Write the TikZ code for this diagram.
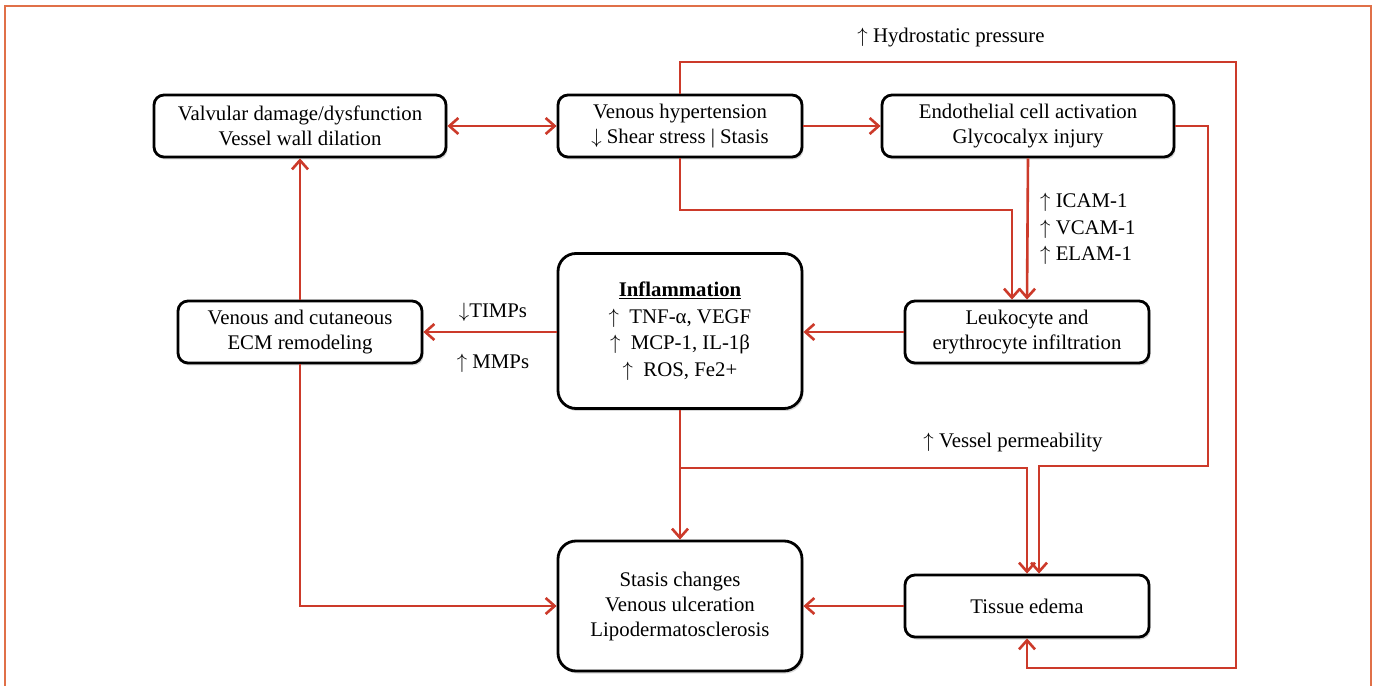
\documentclass[tikz,border=0pt]{standalone}
\usepackage{fontspec}
\setmainfont{Liberation Serif}
\usetikzlibrary{arrows.meta, positioning, calc, shadows}
\definecolor{linkred}{RGB}{204,58,42}
\definecolor{frameorange}{RGB}{224,112,72}
\newcommand{\up}{$\uparrow$}
\newcommand{\dn}{$\downarrow$}

\begin{document}
\begin{tikzpicture}[
    x=1pt, y=-1pt,
    font=\fontsize{20.8}{25}\selectfont,
    >={Straight Barb[length=9pt, width=16pt]},
    block/.style={draw, rounded corners=10pt, line width=2.8pt, align=center, fill=white, minimum height=62pt,
        drop shadow={shadow xshift=1.5pt, shadow yshift=-2.5pt, fill=black!30}},
    wideBlock/.style={block, minimum width=292pt},
    slimBlock/.style={block, minimum width=244pt},
    bigBlock/.style={block, rounded corners=18pt, minimum width=244pt},
    line/.style={->, line width=2.6pt, draw=linkred},
    lbl/.style={inner sep=0pt, align=left}
]

% Page and frame
\path[fill=white] (0,0) rectangle (1377,686);
\draw[frameorange, line width=1.6pt] (5,686) -- (5,6) -- (1371,6) -- (1371,686);

% Top row
\node[wideBlock] (valve) at (300,126) {Valvular damage/dysfunction\\Vessel wall dilation};
\node[slimBlock] (hyper) at (680,126) {Venous hypertension\\\dn\ Shear stress | Stasis};
\node[wideBlock] (endo) at (1028,126) {Endothelial cell activation\\Glycocalyx injury};

% Middle row
\node[slimBlock] (ecm) at (300,332) {Venous and cutaneous\\ECM remodeling};
\node[bigBlock, minimum height=155pt, font=\fontsize{20.8}{26.5}\selectfont] (inflam) at (680,331)
{\underline{\textbf{Inflammation}}\\\up\ \ TNF-α, VEGF\\\up\ \ MCP-1, IL-1β\\\up\ \ ROS, Fe2+};
\node[slimBlock] (leuko) at (1027,332) {Leukocyte and\\erythrocyte infiltration};

% Bottom row
\node[bigBlock, minimum height=130pt] (ulcer) at (680,606) {Stasis changes\\Venous ulceration\\Lipodermatosclerosis};
\node[slimBlock] (edema) at (1027,606) {Tissue edema};

% Labels
\node[lbl] (hydro) at (951,38) {\up\ Hydrostatic pressure};
\node[lbl, anchor=west, font=\fontsize{20.8}{26.5}\selectfont] (icam) at (1040,229) {\up\ ICAM-1\\\up\ VCAM-1\\\up\ ELAM-1};
\node[lbl] (timps) at (493,312) {\dn TIMPs};
\node[lbl] (mmps) at (493,363) {\up\ MMPs};
\node[lbl] (perm) at (1013,443) {\up\ Vessel permeability};

% Turning points
\coordinate (hydroTR) at (1236,62);
\coordinate (hydroBR) at (1236,668);
\coordinate (hyperTurn) at (1012,210);
\coordinate (endoTurn) at (1208,466);
\coordinate (permSplit) at (680,468);

% Connections
\draw[line, <->] (valve) -- (hyper);
\draw[line] (hyper) -- (endo);

\draw[line] (hyper.north) |- (hydroTR) -- (hydroBR) -| (edema.south);
\draw[line] (hyper.south) |- (hyperTurn) -- (hyperTurn |- leuko.north);
\draw[line] (endo.south) -- (leuko.north);

\draw[line] (leuko.west) -- (leuko.west -| inflam.east);
\draw[line] (inflam.west |- ecm.east) -- (ecm.east);
\draw[line] (ecm.north) -- (valve.south);
\draw[line] (ecm.south) |- (ulcer.west);

\draw[line] (inflam.south) -- (ulcer.north);
\draw[line] (permSplit) -| (edema.north);
\draw[line] (endo.east) -| (endoTurn) -| ([xshift=12pt]edema.north);

\draw[line] (edema.west) -- (ulcer.east);

\end{tikzpicture}
\end{document}
